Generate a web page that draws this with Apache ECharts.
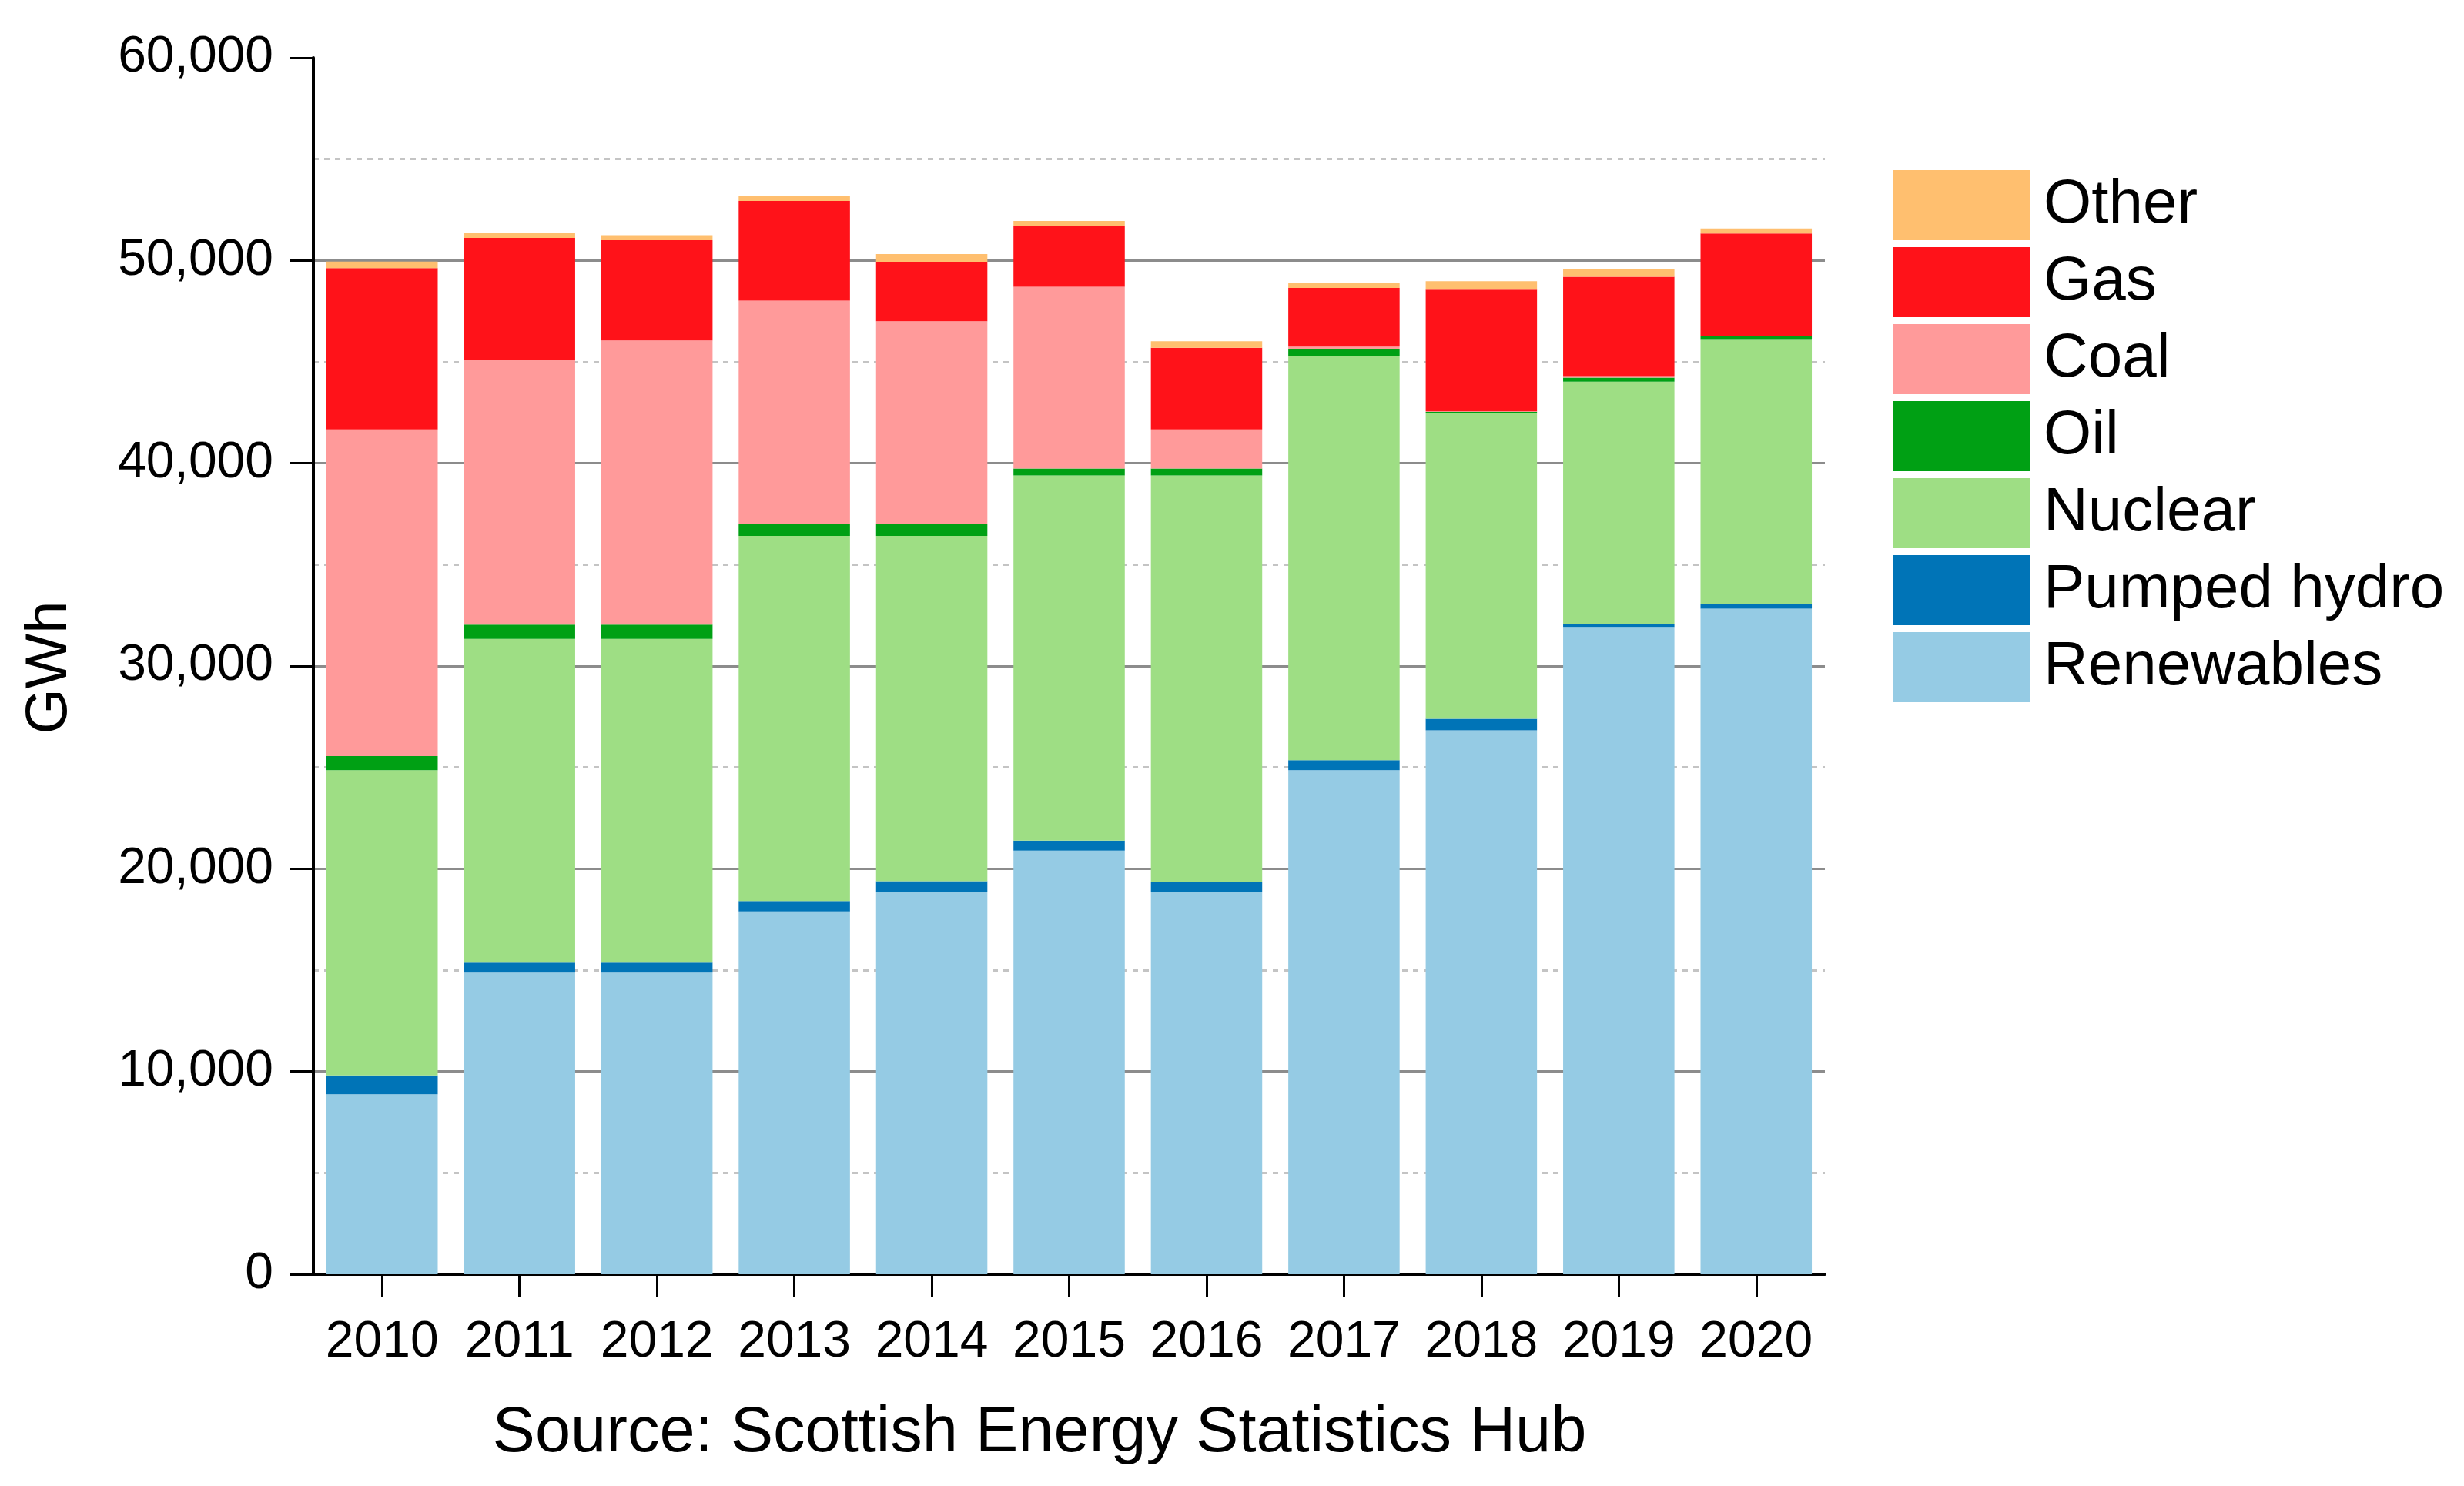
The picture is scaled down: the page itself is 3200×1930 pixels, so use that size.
<!DOCTYPE html>
<html>
<head>
<meta charset="utf-8">
<script src="https://cdn.jsdelivr.net/npm/echarts@6/dist/echarts.min.js"></script>
<style>
html,body{margin:0;padding:0;background:#fff;}
#chart{width:3200px;height:1930px;}
</style>
</head>
<body>
<div id="chart"></div>
<script>
const years = ['2010','2011','2012','2013','2014','2015','2016','2017','2018','2019','2020'];
const renewables = [8880, 14880, 14880, 17900, 18840, 20900, 18870, 24860, 26830, 31930, 32830];
const pumpedHydro = [930, 490, 490, 510, 550, 490, 500, 500, 570, 140, 250];
const nuclear = [15050, 15970, 15970, 18010, 17030, 18010, 20030, 19940, 15060, 11950, 13040];
const oil = [700, 700, 700, 610, 610, 340, 340, 350, 70, 200, 130];
const coal = [16110, 13060, 14010, 10990, 9970, 8960, 1930, 100, 30, 80, 0];
const gas = [7950, 6010, 4950, 4920, 2940, 3010, 4020, 2900, 6040, 4900, 5080];
const other = [330, 230, 250, 260, 380, 240, 330, 240, 380, 360, 250];
const yTicks = [0, 10000, 20000, 30000, 40000, 50000, 60000];
const legendOrder = ['Other','Gas','Coal','Oil','Nuclear','Pumped hydro','Renewables'];

const FONT = '"Liberation Sans", Arial, Helvetica, sans-serif';
const seriesDefs = [
  ['Renewables', renewables, '#95CBE4'],
  ['Pumped hydro', pumpedHydro, '#0074B7'],
  ['Nuclear', nuclear, '#9EDE84'],
  ['Oil', oil, '#00A014'],
  ['Coal', coal, '#FF9A9A'],
  ['Gas', gas, '#FF1219'],
  ['Other', other, '#FFBF6F']
];

const chart = echarts.init(document.getElementById('chart'), null, {renderer: 'canvas'});
chart.setOption({
  animation: false,
  backgroundColor: '#ffffff',
  textStyle: {fontFamily: FONT},
  grid: {left: 407, right: 830, top: 75, bottom: 275, containLabel: false},
  legend: {
    data: legendOrder,
    orient: 'vertical',
    left: 2454,
    top: 216,
    icon: 'rect',
    itemWidth: 178,
    itemHeight: 91,
    itemGap: 9,
    selectedMode: false,
    textStyle: {fontSize: 80, color: '#000', fontFamily: FONT, padding: [0, 0, 0, 12]}
  },
  xAxis: {
    type: 'category',
    data: years,
    axisLine: {show: true, lineStyle: {color: '#000', width: 4}},
    axisTick: {show: true, alignWithLabel: true, interval: 0, length: 30, lineStyle: {color: '#000', width: 3}},
    axisLabel: {interval: 0, fontSize: 66, color: '#000', margin: 56, fontFamily: FONT}
  },
  yAxis: {
    type: 'value',
    min: yTicks[0],
    max: yTicks[yTicks.length - 1],
    interval: 10000,
    axisLine: {show: true, lineStyle: {color: '#000', width: 4}},
    axisTick: {show: true, length: 30, lineStyle: {color: '#000', width: 3}},
    axisLabel: {
      fontSize: 66, color: '#000', margin: 52, fontFamily: FONT,
      formatter: v => v.toLocaleString('en-US')
    },
    splitLine: {show: true, lineStyle: {color: ['rgba(0,0,0,0)', '#8c8c8c', '#8c8c8c', '#8c8c8c', '#8c8c8c', '#8c8c8c', 'rgba(0,0,0,0)'], width: 3}},
    minorTick: {show: false, splitNumber: 2},
    minorSplitLine: {show: true, lineStyle: {color: '#c4c4c4', width: 3, type: [7, 7]}}
  },
  series: seriesDefs.map(([name, data, color]) => ({
    name: name,
    type: 'bar',
    stack: 'total',
    data: data,
    barWidth: '81%',
    itemStyle: {color: color},
    emphasis: {disabled: true}
  })),
  graphic: [
    {
      type: 'text',
      x: 65, y: 867,
      rotation: Math.PI / 2,
      style: {text: 'GWh', fontSize: 76, fontFamily: FONT, fill: '#000', textAlign: 'center', textVerticalAlign: 'middle'}
    },
    {
      type: 'text',
      x: 1350, y: 1862,
      style: {text: 'Source: Scottish Energy Statistics Hub', fontSize: 83, fontFamily: FONT, fill: '#000', textAlign: 'center', textVerticalAlign: 'middle'}
    }
  ]
});
</script>
</body>
</html>
